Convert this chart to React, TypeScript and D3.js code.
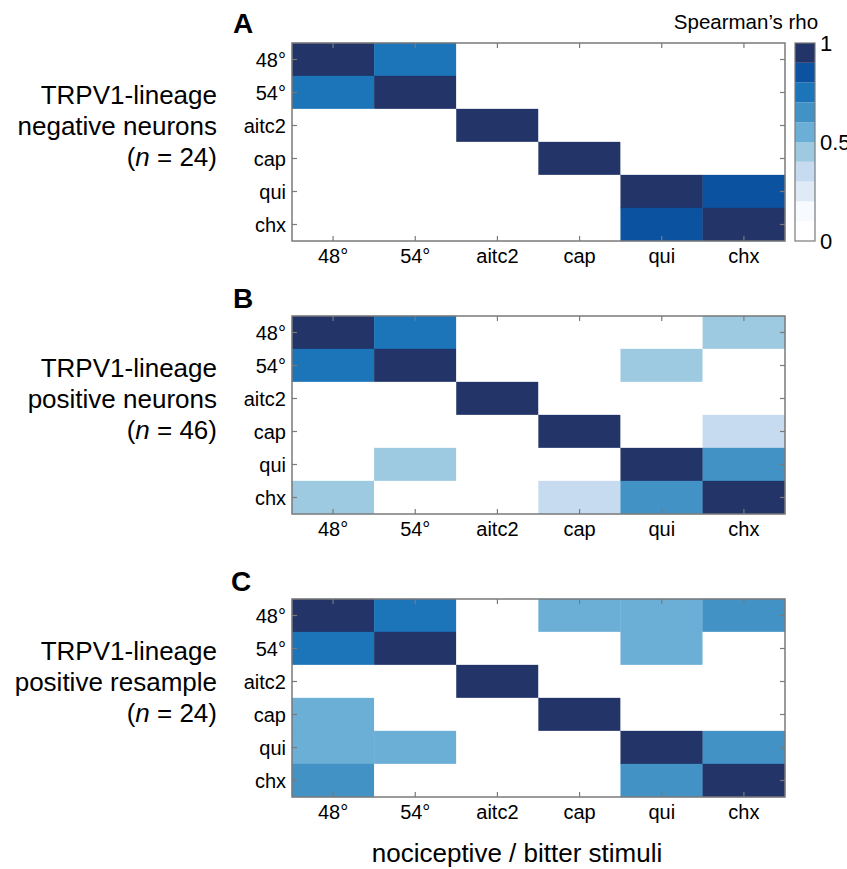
import React from "react";
import * as d3 from "d3";

const stimuli = ["48°", "54°", "aitc2", "cap", "qui", "chx"];
const panelLetters = ["A", "B", "C"];
const groupLine1 = ["TRPV1-lineage", "TRPV1-lineage", "TRPV1-lineage"];
const groupLine2 = ["negative neurons", "positive neurons", "positive resample"];
const groupN = [24, 46, 24];

const rhoNegative = [
  [1, 0.75, 0, 0, 0, 0],
  [0.75, 1, 0, 0, 0, 0],
  [0, 0, 1, 0, 0, 0],
  [0, 0, 0, 1, 0, 0],
  [0, 0, 0, 0, 1, 0.85],
  [0, 0, 0, 0, 0.85, 1],
];
const rhoPositive = [
  [1, 0.75, 0, 0, 0, 0.45],
  [0.75, 1, 0, 0, 0.45, 0],
  [0, 0, 1, 0, 0, 0],
  [0, 0, 0, 1, 0, 0.35],
  [0, 0.45, 0, 0, 1, 0.65],
  [0.45, 0, 0, 0.35, 0.65, 1],
];
const rhoResample = [
  [1, 0.75, 0, 0.55, 0.55, 0.65],
  [0.75, 1, 0, 0, 0.55, 0],
  [0, 0, 1, 0, 0, 0],
  [0.55, 0, 0, 1, 0, 0],
  [0.55, 0.55, 0, 0, 1, 0.65],
  [0.65, 0, 0, 0, 0.65, 1],
];
const matrices = [rhoNegative, rhoPositive, rhoResample];

const colorSteps = [
  "#ffffff", "#f7fbff", "#deebf7", "#c6dbef", "#9ecae1",
  "#6baed6", "#4292c6", "#1c74b9", "#0b53a0", "#223468",
];
const colorbarTicks = [0, 0.5, 1];
const colorbarLabel = "Spearman\u2019s rho";
const xTitle = "nociceptive / bitter stimuli";

const FONT = "'Liberation Sans', Arial, Helvetica, sans-serif";
const AX = "#7a7a7a";

const left = 292;
const right = 785;
const panelTops = [43, 316, 599];
const panelH = 198;

export default function App() {
  const x = d3.scaleBand<string>().domain(stimuli).range([left, right]);
  const color = d3.scaleQuantize<string>().domain([0, 1]).range(colorSteps);
  const bins = d3.range(colorSteps.length).map((i) => (i + 0.5) / colorSteps.length);
  const cbTop = panelTops[0];
  const cbBottom = panelTops[0] + panelH;
  const cbY = d3.scaleLinear().domain([0, 1]).range([cbBottom, cbTop]);
  const cbX0 = 795;
  const cbX1 = 815;
  const tickLen = 5;

  return (
    <svg
      width={847}
      height={869}
      style={{ position: "absolute", left: 0, top: 0, display: "block", background: "#fff" }}
      fontFamily={FONT}
    >
      {matrices.map((m, pi) => {
        const top = panelTops[pi];
        const y = d3.scaleBand<string>().domain(stimuli).range([top, top + panelH]);
        const mid = top + panelH / 2;
        return (
          <g key={pi}>
            <text x={pi === 2 ? 231 : 233} y={pi === 0 ? 33 : pi === 1 ? 308 : 591} fontSize={28} fontWeight="bold">
              {panelLetters[pi]}
            </text>
            <g fontSize={26} textAnchor="end">
              <text x={217} y={mid - 38}>{groupLine1[pi]}</text>
              <text x={217} y={mid - 7}>{groupLine2[pi]}</text>
              <text x={217} y={mid + 24}>
                (<tspan fontStyle="italic">n</tspan> = {groupN[pi]})
              </text>
            </g>
            {m.map((row, ri) =>
              row.map((v, ci) => (
                <rect
                  key={ri + "-" + ci}
                  x={x(stimuli[ci])}
                  y={y(stimuli[ri])}
                  width={x.bandwidth()}
                  height={y.bandwidth()}
                  fill={color(v)}
                  stroke={color(v)}
                  strokeWidth={0.3}
                />
              ))
            )}
            <rect x={left} y={top} width={right - left} height={panelH} fill="none" stroke={AX} strokeWidth={1.5} />
            {stimuli.map((s) => {
              const cx = x(s)! + x.bandwidth() / 2;
              const cy = y(s)! + y.bandwidth() / 2;
              return (
                <g key={s} stroke={AX} strokeWidth={1.2}>
                  <line x1={cx} x2={cx} y1={top + panelH} y2={top + panelH - tickLen} />
                  <line x1={cx} x2={cx} y1={top} y2={top + tickLen} />
                  <line x1={left} x2={left + tickLen} y1={cy} y2={cy} />
                  <line x1={right} x2={right - tickLen} y1={cy} y2={cy} />
                </g>
              );
            })}
            <g fontSize={20}>
              {stimuli.map((s) => (
                <text key={"y" + s} x={286} y={y(s)! + y.bandwidth() / 2 + 7} textAnchor="end">{s}</text>
              ))}
              {stimuli.map((s) => (
                <text key={"x" + s} x={x(s)! + x.bandwidth() / 2} y={top + panelH + 22} textAnchor="middle">{s}</text>
              ))}
            </g>
          </g>
        );
      })}
      <text x={517} y={862} fontSize={26} textAnchor="middle">{xTitle}</text>
      <text x={746} y={29} fontSize={20.5} textAnchor="middle">{colorbarLabel}</text>
      {bins.map((b, i) => (
        <rect
          key={i}
          x={cbX0}
          y={cbY((i + 1) / colorSteps.length)}
          width={cbX1 - cbX0}
          height={cbY(i / colorSteps.length) - cbY((i + 1) / colorSteps.length)}
          fill={color(b)}
        />
      ))}
      <rect x={cbX0} y={cbTop} width={cbX1 - cbX0} height={cbBottom - cbTop} fill="none" stroke={AX} strokeWidth={1.2} />
      {colorbarTicks.map((t) => (
        <text key={t} x={820} y={cbY(t) + 8} fontSize={22}>{t}</text>
      ))}
    </svg>
  );
}
